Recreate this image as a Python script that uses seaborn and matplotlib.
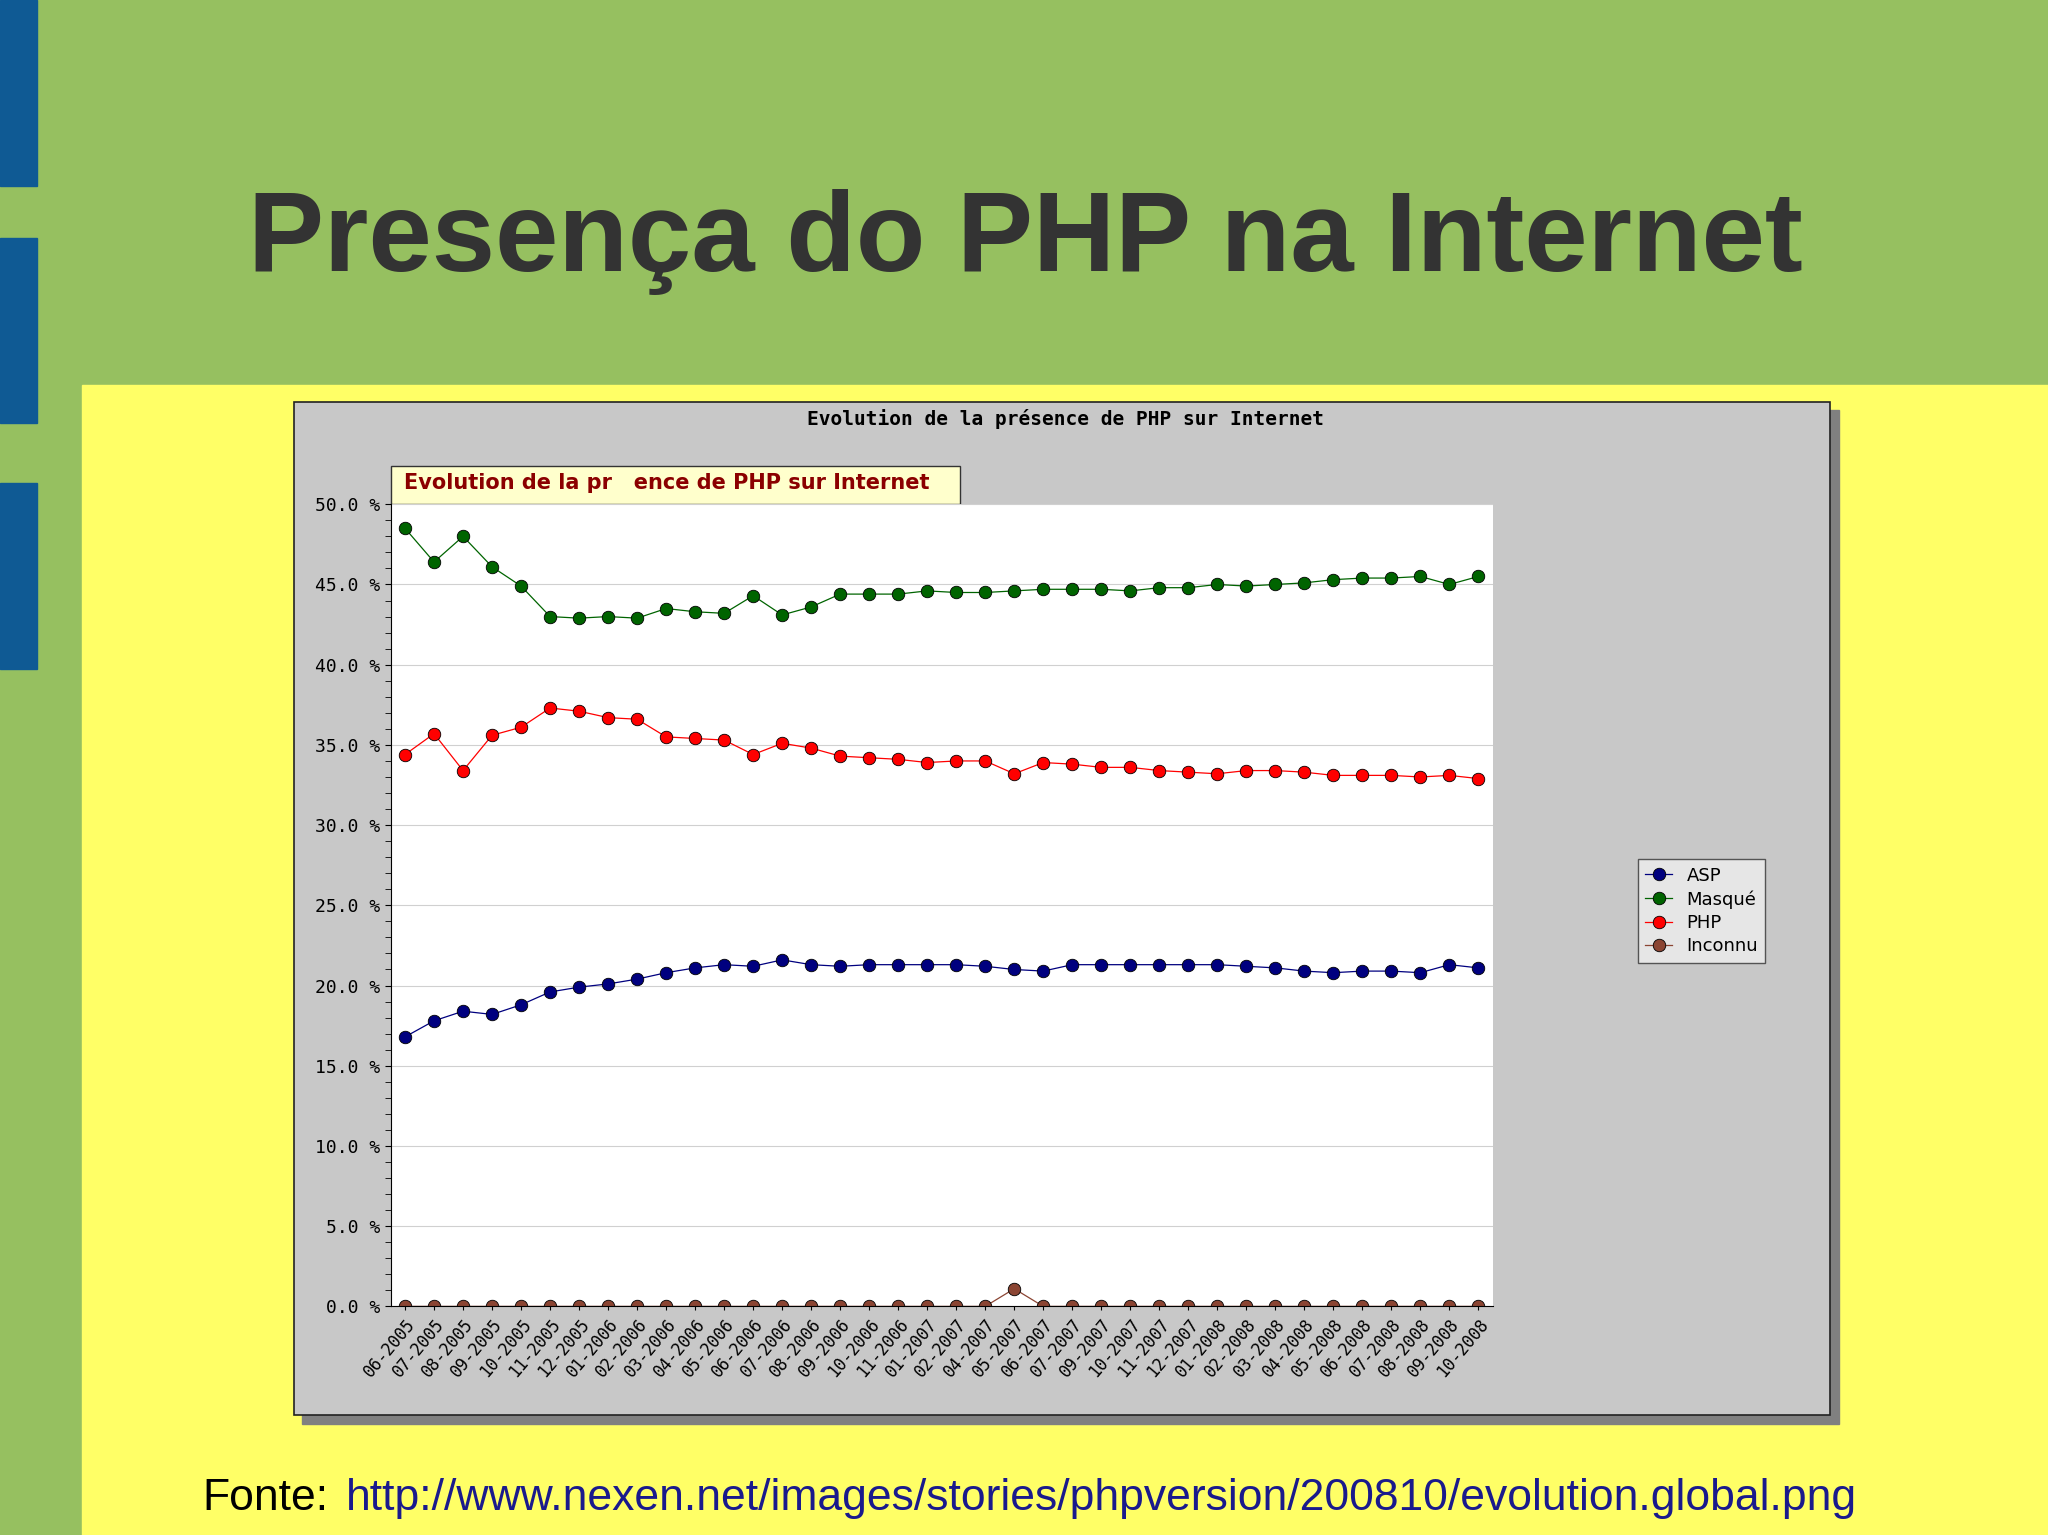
import matplotlib
matplotlib.use("Agg")
import matplotlib.pyplot as plt
import matplotlib.patches as mpatches
import pandas as pd
import seaborn as sns

months = ["06-2005", "07-2005", "08-2005", "09-2005", "10-2005", "11-2005", "12-2005",
          "01-2006", "02-2006", "03-2006", "04-2006", "05-2006", "06-2006", "07-2006",
          "08-2006", "09-2006", "10-2006", "11-2006", "01-2007", "02-2007", "04-2007",
          "05-2007", "06-2007", "07-2007", "09-2007", "10-2007", "11-2007", "12-2007",
          "01-2008", "02-2008", "03-2008", "04-2008", "05-2008", "06-2008", "07-2008",
          "08-2008", "09-2008", "10-2008"]
asp = [16.8, 17.8, 18.4, 18.2, 18.8, 19.6, 19.9, 20.1, 20.4, 20.8, 21.1, 21.3, 21.2,
       21.6, 21.3, 21.2, 21.3, 21.3, 21.3, 21.3, 21.2, 21.0, 20.9, 21.3, 21.3, 21.3,
       21.3, 21.3, 21.3, 21.2, 21.1, 20.9, 20.8, 20.9, 20.9, 20.8, 21.3, 21.1]
masque = [48.5, 46.4, 48.0, 46.1, 44.9, 43.0, 42.9, 43.0, 42.9, 43.5, 43.3, 43.2, 44.3,
          43.1, 43.6, 44.4, 44.4, 44.4, 44.6, 44.5, 44.5, 44.6, 44.7, 44.7, 44.7, 44.6,
          44.8, 44.8, 45.0, 44.9, 45.0, 45.1, 45.3, 45.4, 45.4, 45.5, 45.0, 45.5]
php = [34.4, 35.7, 33.4, 35.6, 36.1, 37.3, 37.1, 36.7, 36.6, 35.5, 35.4, 35.3, 34.4,
       35.1, 34.8, 34.3, 34.2, 34.1, 33.9, 34.0, 34.0, 33.2, 33.9, 33.8, 33.6, 33.6,
       33.4, 33.3, 33.2, 33.4, 33.4, 33.3, 33.1, 33.1, 33.1, 33.0, 33.1, 32.9]
inconnu = [0.0] * 21 + [1.1] + [0.0] * 16

series = {"ASP": asp, "Masqué": masque, "PHP": php, "Inconnu": inconnu}
colors = {"ASP": "#00007f", "Masqué": "#006400", "PHP": "#ff0000", "Inconnu": "#8b4533"}

rows = []
for name, vals in series.items():
    for i, v in enumerate(vals):
        rows.append({"idx": i, "value": v, "serie": name})
df = pd.DataFrame(rows)

W, H = 1568, 1175
fig = plt.figure(figsize=(20.48, 15.35), dpi=100)
fig.patch.set_facecolor("#96c060")

def rect(x0, y0, x1, y1, **kw):
    fig.patches.append(mpatches.Rectangle((x0 / W, 1 - y1 / H), (x1 - x0) / W, (y1 - y0) / H,
                                          transform=fig.transFigure, figure=fig, **kw))

rect(63, 295, 1568, 1175, color="#ffff66", zorder=0)
for y0, y1 in [(0, 142), (182, 324), (370, 512)]:
    rect(0, y0, 28, y1, color="#0f5a94", zorder=1)
rect(231, 314, 1408, 1090, color="#808080", zorder=1)
rect(225, 308, 1401, 1083, facecolor="#c8c8c8", edgecolor="#222222", lw=1.2, zorder=2)
rect(299, 357, 735, 386, facecolor="#ffffcc", edgecolor="#333333", lw=1, zorder=3)

fig.text(785 / W, 1 - 185 / H, "Presença do PHP na Internet", ha="center", va="center",
         fontsize=82, fontweight="bold", color="#333333", family="Liberation Sans")
fig.text(816 / W, 1 - 321 / H, "Evolution de la présence de PHP sur Internet", ha="center",
         va="center", fontsize=14, fontweight="bold", family="DejaVu Sans Mono", color="black")
fig.text(309 / W, 1 - 370 / H, "Evolution de la pr   ence de PHP sur Internet", ha="left",
         va="center", fontsize=15, fontweight="bold", color="#8b0000", zorder=4)
fig.text(155 / W, 1 - 1147 / H, "Fonte:", ha="left", va="center", fontsize=32,
         family="Liberation Sans", color="black")
fig.text(265 / W, 1 - 1147 / H, "http://www.nexen.net/images/stories/phpversion/200810/evolution.global.png",
         ha="left", va="center", fontsize=32, family="Liberation Sans", color="#1a1a8c")

ax = fig.add_axes([299 / W, 1 - 1000 / H, 844 / W, 614 / H], zorder=5)
ax.set_facecolor("white")
sns.lineplot(data=df, x="idx", y="value", hue="serie", palette=colors, marker="o",
             markersize=9, markeredgecolor="black", markeredgewidth=0.6, lw=0.9, ax=ax)
ax.set_xlim(-0.5, len(months) - 0.5)
ax.set_ylim(0, 50)
ax.set_yticks([i * 5 for i in range(11)])
ax.set_yticklabels([f"{i * 5:.1f} %" for i in range(11)], family="DejaVu Sans Mono", fontsize=13)
ax.set_yticks([i for i in range(51)], minor=True)
ax.set_xticks(range(len(months)))
ax.set_xticklabels(months, rotation=50, ha="right", rotation_mode="anchor",
                   family="DejaVu Sans Mono", fontsize=12)
ax.grid(axis="y", color="#d0d0d0", lw=0.8)
ax.set_axisbelow(True)
ax.set_xlabel("")
ax.set_ylabel("")
for s in ["top", "right"]:
    ax.spines[s].set_visible(False)
ax.tick_params(axis="y", which="both", direction="out", length=4)
ax.tick_params(axis="x", length=3)
leg = ax.legend(loc="upper left", bbox_to_anchor=((1247 - 299) / 844, 1 - (651 - 386) / 614),
                frameon=True, fancybox=False, edgecolor="#333333", facecolor="#eeeeee",
                prop={"family": "DejaVu Sans", "size": 13}, handlelength=1.5,
                borderpad=0.4, labelspacing=0.3)
leg.get_frame().set_linewidth(1)

fig.savefig("out.png", dpi=100)
